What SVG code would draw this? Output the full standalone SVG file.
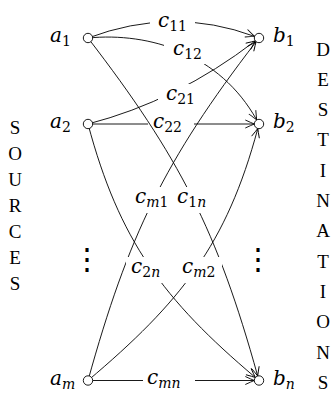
<svg xmlns="http://www.w3.org/2000/svg" width="336" height="393" viewBox="0 0 336 393">
<style>
.e{fill:none;stroke:#000;stroke-width:0.9;marker-end:url(#arr)}
.n{fill:#fff;stroke:#000;stroke-width:0.9}
.m{font-family:"DejaVu Serif",serif;font-style:italic;font-size:20px;fill:#000}
.s{font-size:14px}
.u{font-style:normal}
.bg{fill:#fff}
.v{font-family:"Liberation Serif",serif;font-size:19px;text-anchor:middle;fill:#000}
.d{font-family:"Noto Sans CJK JP",sans-serif;font-size:30px;text-anchor:middle;fill:#000}
</style>
<defs>
<marker id="arr" markerUnits="userSpaceOnUse" markerWidth="14" markerHeight="12" viewBox="-11 -6 14 12" refX="0" refY="0" orient="auto" overflow="visible">
<path d="M-9,-4 Q-3,-1.2 0,0 Q-3,1.2 -9,4" fill="none" stroke="#000" stroke-width="0.9"/>
</marker>
</defs>
<g id="connectors">
<g id="e-a2-b2"><path class="e" d="M88,124 H254.3"/><rect class="bg" x="148" y="114" width="46" height="20"/><text class="m" x="153" y="128">c<tspan class="s u" dy="4">22</tspan></text></g>
<g id="e-am-bn"><path class="e" d="M88,380.5 H254.3"/><rect class="bg" x="143" y="368" width="52" height="22"/><text class="m" x="147" y="384">c<tspan class="s" dy="4">mn</tspan></text></g>
<g id="e-a1-b1"><path class="e" d="M88,38 Q173,6 254.6,36.4"/><rect class="bg" x="150" y="10" width="45" height="22"/><text class="m" x="158" y="27">c<tspan class="s u" dy="4">11</tspan></text></g>
<g id="e-a1-b2"><path class="e" d="M88,38 C150,32 219.7,53.9 256.7,119.9"/><rect class="bg" x="164" y="40" width="45" height="24"/><text class="m" x="173" y="55">c<tspan class="s u" dy="4">12</tspan></text></g>
<g id="e-a2-b1"><path class="e" d="M88,124 Q177,101 255.3,40.9"/><rect class="bg" x="158" y="84" width="45" height="24"/><text class="m" x="166" y="100">c<tspan class="s u" dy="4">21</tspan></text></g>
<g id="e-am-b1"><path class="e" d="M88,380.5 C128.3,235.5 164.6,160.5 256.1,41.7"/><rect class="bg" x="130" y="187" width="41" height="26"/><text class="m" x="135" y="203">c<tspan class="s" dy="4">m</tspan><tspan class="s u">1</tspan></text></g>
<g id="e-a1-bn"><path class="e" d="M88,38 C179.5,156.8 217.4,231 257.7,376"/><rect class="bg" x="172" y="187" width="40" height="26"/><text class="m" x="177" y="203">c<tspan class="s u" dy="4">1</tspan><tspan class="s">n</tspan></text></g>
<g id="e-am-b2"><path class="e" d="M88,380.5 C180.3,302.5 226.6,244.9 257.8,128.5"/><rect class="bg" x="177" y="257" width="45" height="26"/><text class="m" x="182" y="273">c<tspan class="s" dy="4">m</tspan><tspan class="s u">2</tspan></text></g>
<g id="e-a2-bn"><path class="e" d="M88,124 C119.2,240.4 163.1,299.5 255.4,377.5"/><rect class="bg" x="126" y="257" width="40" height="26"/><text class="m" x="131" y="273">c<tspan class="s u" dy="4">2</tspan><tspan class="s">n</tspan></text></g>
</g>
<g id="a1"><circle class="n" cx="88" cy="38" r="4.7"/><text class="m" x="50" y="41.5">a<tspan class="s u" dy="4">1</tspan></text></g>
<g id="a2"><circle class="n" cx="88" cy="124" r="4.7"/><text class="m" x="50" y="128">a<tspan class="s u" dy="4">2</tspan></text></g>
<g id="am"><circle class="n" cx="88" cy="380.5" r="4.7"/><text class="m" x="50" y="385">a<tspan class="s" dy="4">m</tspan></text></g>
<g id="b1"><circle class="n" cx="259" cy="38" r="4.7"/><text class="m" x="273" y="42">b<tspan class="s u" dy="4">1</tspan></text></g>
<g id="b2"><circle class="n" cx="259" cy="124" r="4.7"/><text class="m" x="273" y="128">b<tspan class="s u" dy="4">2</tspan></text></g>
<g id="bn"><circle class="n" cx="259" cy="380.5" r="4.7"/><text class="m" x="273" y="385">b<tspan class="s" dy="4">n</tspan></text></g>
<g id="vdots"><text class="d" x="87" y="269">⋮</text><text class="d" x="258" y="269">⋮</text></g>
<g id="sources"><text class="v" x="15" y="133.5">S</text><text class="v" x="15" y="159.5">O</text><text class="v" x="15" y="185.5">U</text><text class="v" x="15" y="211.5">R</text><text class="v" x="15" y="237.5">C</text><text class="v" x="15" y="263.5">E</text><text class="v" x="15" y="289.5">S</text></g>
<g id="destinations"><text class="v" x="323" y="55.5">D</text><text class="v" x="323" y="85.8">E</text><text class="v" x="323" y="116.1">S</text><text class="v" x="323" y="146.4">T</text><text class="v" x="323" y="176.7">I</text><text class="v" x="323" y="207">N</text><text class="v" x="323" y="237.3">A</text><text class="v" x="323" y="267.6">T</text><text class="v" x="323" y="297.9">I</text><text class="v" x="323" y="328.2">O</text><text class="v" x="323" y="358.5">N</text><text class="v" x="323" y="388.8">S</text></g>
</svg>
